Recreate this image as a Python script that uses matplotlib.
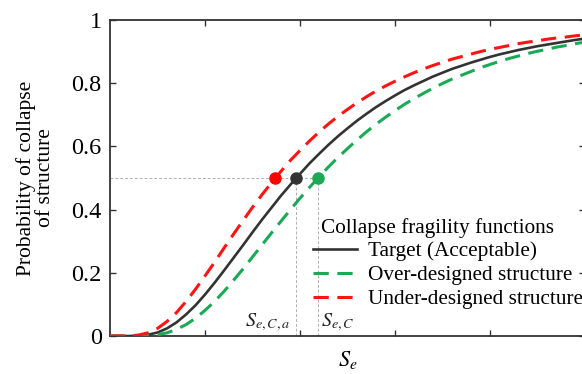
import matplotlib
matplotlib.use('Agg')
import matplotlib.pyplot as plt

plt.rcParams['font.family'] = 'serif'
plt.rcParams['font.serif'] = ['Liberation Serif', 'DejaVu Serif']
plt.rcParams['mathtext.fontset'] = 'stix'

# values (x axis has no numbers, ticks at 1..4)
s_e = [0.0, 0.1, 0.2, 0.3, 0.4, 0.5, 0.6, 0.7, 0.8, 0.9,
       1.0, 1.1, 1.2, 1.3, 1.4, 1.5, 1.6, 1.7, 1.8, 1.9,
       2.0, 2.1, 2.2, 2.3, 2.4, 2.5, 2.6, 2.7, 2.8, 2.9,
       3.0, 3.1, 3.2, 3.3, 3.4, 3.5, 3.6, 3.7, 3.8, 3.9,
       4.0, 4.1, 4.2, 4.3, 4.4, 4.5, 4.6, 4.7, 4.8, 4.9, 5.0]
p_target = [0.0, 0.0, 0.0, 0.001, 0.004, 0.011, 0.024, 0.043, 0.068, 0.097,
            0.131, 0.168, 0.207, 0.247, 0.287, 0.328, 0.368, 0.406, 0.444, 0.479,
            0.513, 0.546, 0.576, 0.605, 0.632, 0.657, 0.681, 0.703, 0.724, 0.743,
            0.761, 0.778, 0.793, 0.807, 0.821, 0.833, 0.845, 0.855, 0.865, 0.874,
            0.883, 0.891, 0.898, 0.905, 0.911, 0.917, 0.922, 0.927, 0.932, 0.937, 0.941]
p_over = [0.0, 0.0, 0.0, 0.0, 0.001, 0.004, 0.01, 0.021, 0.036, 0.056,
          0.081, 0.109, 0.141, 0.176, 0.212, 0.25, 0.288, 0.326, 0.363, 0.4,
          0.436, 0.47, 0.503, 0.535, 0.565, 0.593, 0.62, 0.646, 0.67, 0.692,
          0.713, 0.733, 0.751, 0.768, 0.784, 0.799, 0.813, 0.825, 0.837, 0.849,
          0.859, 0.869, 0.878, 0.886, 0.894, 0.901, 0.907, 0.914, 0.919, 0.925, 0.93]
p_under = [0.0, 0.0, 0.0, 0.003, 0.01, 0.024, 0.046, 0.074, 0.109, 0.148,
           0.19, 0.233, 0.278, 0.322, 0.365, 0.407, 0.447, 0.485, 0.521, 0.556,
           0.587, 0.617, 0.645, 0.671, 0.695, 0.717, 0.738, 0.757, 0.775, 0.791,
           0.806, 0.82, 0.833, 0.845, 0.856, 0.866, 0.876, 0.884, 0.892, 0.9,
           0.907, 0.913, 0.919, 0.925, 0.93, 0.934, 0.939, 0.943, 0.946, 0.95, 0.953]

# S_e where each curve reaches 0.5
med_under = 1.74
med_target = 1.96
med_over = 2.19

labels = ['Target (Acceptable)', 'Over-designed structure', 'Under-designed structure']
yticks = [0, 0.2, 0.4, 0.6, 0.8, 1]
yticklabels = ['0', '0.2', '0.4', '0.6', '0.8', '1']

c_black = '#333333'
c_green = '#1aa955'
c_red = '#ff1414'

fig = plt.figure(figsize=(5.82, 3.74), dpi=100)
ax = fig.add_axes([0.189, 0.1016, 0.816, 0.845])

# guide lines at P = 0.5
ax.plot([0, med_over], [0.5, 0.5], color='#b0b0b0', lw=0.7, ls=(0, (3, 2)), zorder=1)
ax.plot([med_target, med_target], [0, 0.5], color='#b0b0b0', lw=0.7, ls=(0, (3, 2)), zorder=1)
ax.plot([med_over, med_over], [0, 0.5], color='#b0b0b0', lw=0.7, ls=(0, (3, 2)), zorder=1)

l1, = ax.plot(s_e, p_target, color=c_black, lw=1.9, zorder=3)
l2, = ax.plot(s_e, p_over, color=c_green, lw=2.2, dashes=(5, 2.8), zorder=3)
l3, = ax.plot(s_e, p_under, color=c_red, lw=2.2, dashes=(5, 2.8), zorder=3)

ax.plot([med_under], [0.5], 'o', color='#ff0000', ms=8, zorder=4)
ax.plot([med_target], [0.5], 'o', color=c_black, ms=8, zorder=4)
ax.plot([med_over], [0.5], 'o', color=c_green, ms=8, zorder=4)

ax.text(med_target - 0.06, 0.01, '$S_{e,C,a}$', fontsize=14.5, ha='right', va='bottom', color='#222222')
ax.text(med_over + 0.03, 0.01, '$S_{e,C}$', fontsize=14.5, ha='left', va='bottom', color='#222222')

ax.set_xlim(0, 5)
ax.set_ylim(0, 1)
ax.set_xticks([1, 2, 3, 4])
ax.set_xticklabels([])
ax.set_yticks(yticks)
ax.set_yticklabels(yticklabels)
ax.tick_params(direction='in', top=True, right=True, length=4, width=1, color='#333333',
               labelsize=17.5, pad=6)
for sp in ax.spines.values():
    sp.set_linewidth(1.3)
    sp.set_color('#333333')

ax.set_ylabel('Probability of collapse\nof structure', fontsize=15.5, linespacing=1.0)
ax.yaxis.set_label_coords(-0.116, 0.5)
ax.set_xlabel('$S_e$', fontsize=16)
ax.xaxis.set_label_coords(0.5, -0.04)

ax.text(0.444, 0.326, 'Collapse fragility functions', transform=ax.transAxes,
        fontsize=15.3, ha='left', va='baseline')
leg = ax.legend([l1, l2, l3], labels, loc='upper left',
                bbox_to_anchor=(0.427, 0.30), frameon=False, fontsize=15.3,
                handlelength=2.07, handletextpad=0.52, labelspacing=0.2, borderpad=0,
                borderaxespad=0)

fig.savefig('out.png', dpi=100)
